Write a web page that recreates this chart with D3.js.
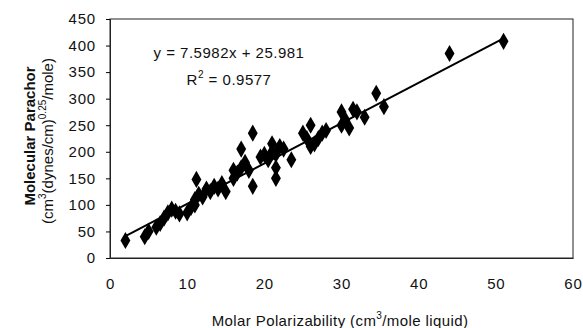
<!DOCTYPE html>
<html>
<head>
<meta charset="utf-8">
<script src="https://cdn.jsdelivr.net/npm/d3@7"></script>
<style>
  body { margin: 0; background: #fff; }
  text { font-family: "Liberation Sans", Arial, sans-serif; fill: #111; }
</style>
</head>
<body>
<div id="chart"></div>
<script>
// Molar polarizability (x) vs molecular parachor (y)
const polarizability = [2, 4.5, 5, 6, 6.5, 7, 7.5, 8, 8.5, 9, 10, 10.5, 11, 11, 11.5, 11.2, 12, 12.5, 13, 13.5,
  14, 14.5, 15, 16, 16, 16.5, 17, 17, 17.5, 18, 18.5, 18.5, 19.5, 20, 20.5, 21, 21, 21.5, 21.5, 21.5,
  22, 22.5, 23.5, 25, 25.5, 26, 26, 26.5, 27, 27.5, 28, 30, 30, 30.5, 31, 31.5, 32, 33, 34.5, 35.5, 44, 51];
const parachor = [33, 40, 50, 58, 65, 75, 85, 92, 88, 83, 85, 95, 100, 110, 120, 148, 115, 130, 125, 135,
  130, 140, 125, 150, 165, 160, 170, 205, 180, 165, 235, 135, 190, 195, 185, 215, 200, 195, 170, 150,
  210, 205, 185, 235, 225, 210, 250, 215, 225, 235, 240, 275, 250, 260, 245, 280, 275, 265, 310, 285, 385, 408];

const slope = 7.5982, intercept = 25.981;
const fitRange = [2, 51];
const xTicks = [0, 10, 20, 30, 40, 50, 60];
const yTicks = [0, 50, 100, 150, 200, 250, 300, 350, 400, 450];

const W = 583, H = 328;
const margin = { top: 19, right: 10, bottom: 70, left: 110 };
const width = W - margin.left - margin.right;
const height = H - margin.top - margin.bottom;

const svg = d3.select("#chart").append("svg")
  .attr("width", W).attr("height", H);

const g = svg.append("g")
  .attr("transform", `translate(${margin.left},${margin.top})`);

const x = d3.scaleLinear().domain([0, 60]).range([0, width]);
const y = d3.scaleLinear().domain([0, 450]).range([height, 0]);

// plot area border
g.append("rect")
  .attr("width", width).attr("height", height)
  .attr("fill", "none").attr("stroke", "#222").attr("stroke-width", 1);

// axes
const yAxis = g.append("g")
  .call(d3.axisLeft(y).tickValues(yTicks).tickSize(4).tickPadding(10));
yAxis.select(".domain").attr("stroke", "#222");
yAxis.selectAll("text").style("font-size", "15px").style("letter-spacing", "0.8px");

const xAxis = g.append("g")
  .attr("transform", `translate(0,${height})`)
  .call(d3.axisBottom(x).tickValues(xTicks).tickSize(0).tickPadding(20));
xAxis.select(".domain").attr("stroke", "#222");
xAxis.selectAll("text").style("font-size", "15px").style("letter-spacing", "0.8px");

// trend line
g.append("line")
  .attr("x1", x(fitRange[0])).attr("y1", y(slope * fitRange[0] + intercept))
  .attr("x2", x(fitRange[1])).attr("y2", y(slope * fitRange[1] + intercept))
  .attr("stroke", "#000").attr("stroke-width", 2);

// points
const pts = polarizability.map((v, i) => [v, parachor[i]]);
g.selectAll("path.pt")
  .data(pts)
  .enter().append("path")
  .attr("class", "pt")
  .attr("d", d3.symbol().type(d3.symbolDiamond).size(85))
  .attr("transform", d => `translate(${x(d[0])},${y(d[1])})`)
  .attr("fill", "#000");

// equation
svg.append("text")
  .attr("x", 229).attr("y", 58)
  .attr("text-anchor", "middle")
  .style("font-size", "15px")
  .style("letter-spacing", "0.5px")
  .text("y = 7.5982x + 25.981");

const r2 = svg.append("text")
  .attr("x", 229).attr("y", 85)
  .attr("text-anchor", "middle")
  .style("font-size", "15px")
  .style("letter-spacing", "0.5px");
r2.append("tspan").text("R");
r2.append("tspan").attr("dy", -7).style("font-size", "10px").text("2");
r2.append("tspan").attr("dy", 7).text(" = 0.9577");

// y axis title
const yt = svg.append("g").attr("transform", "rotate(-90)");
yt.append("text")
  .attr("x", -136).attr("y", 35)
  .attr("text-anchor", "middle")
  .style("font-size", "15px")
  .style("font-weight", "bold")
  .text("Molecular Parachor");
const yt2 = yt.append("text")
  .attr("x", -141).attr("y", 53)
  .attr("text-anchor", "middle")
  .style("font-size", "15px");
yt2.append("tspan").text("(cm");
yt2.append("tspan").attr("dy", -7).style("font-size", "10px").text("3");
yt2.append("tspan").attr("dy", 7).text("(dynes/cm)");
yt2.append("tspan").attr("dy", -7).style("font-size", "10px").text("0.25");
yt2.append("tspan").attr("dy", 7).text("/mole)");

// x axis title
const xt = svg.append("text")
  .attr("x", 340).attr("y", 326)
  .attr("text-anchor", "middle")
  .style("font-size", "15px")
  .style("letter-spacing", "0.4px");
xt.append("tspan").text("Molar Polarizability (cm");
xt.append("tspan").attr("dy", -7).style("font-size", "10px").text("3");
xt.append("tspan").attr("dy", 7).text("/mole liquid)");
</script>
</body>
</html>
